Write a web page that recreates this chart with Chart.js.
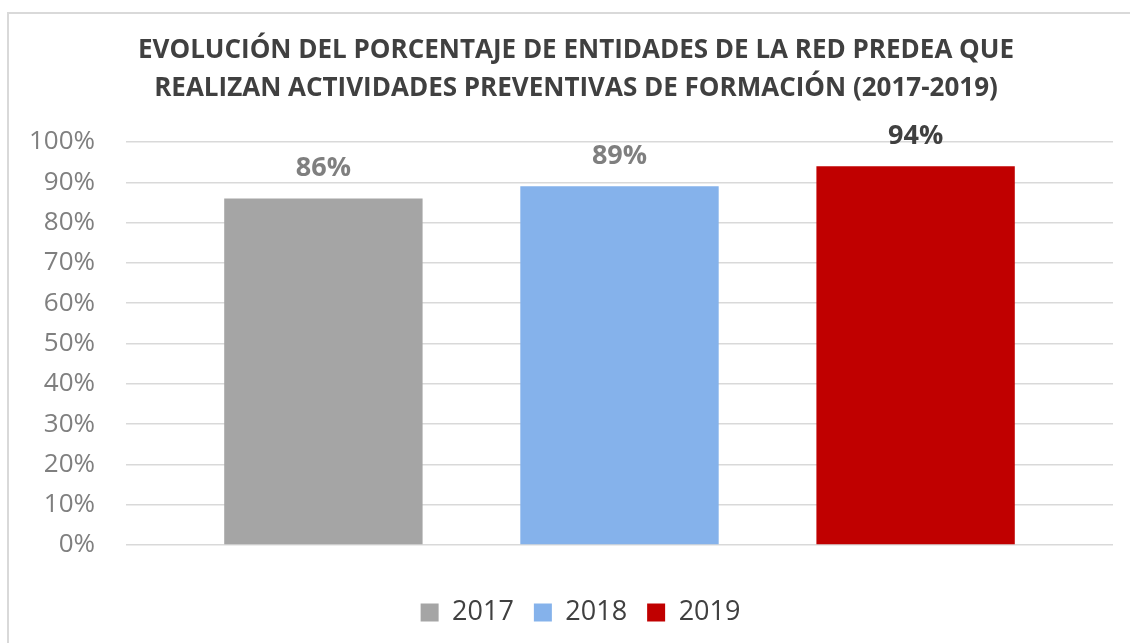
<!DOCTYPE html>
<html>
<head>
<meta charset="utf-8">
<script src="https://cdn.jsdelivr.net/npm/chart.js@4"></script>
<style>
  html, body { margin: 0; padding: 0; background: #fff; }
  #wrap { position: relative; width: 1130px; height: 643px; overflow: hidden; }
  #frame {
    position: absolute; left: 7px; top: 12px; width: 1200px; height: 700px;
    border-left: 2px solid #d9d9d9; border-top: 2px solid #d9d9d9;
  }
  #chart { position: absolute; left: 0; top: 0; }
</style>
</head>
<body>
<div id="wrap">
  <div id="frame"></div>
  <canvas id="chart" width="1130" height="643"></canvas>
</div>
<script>
// values
const years = ["2017", "2018", "2019"];
const percents = [86, 89, 94];
const barColors = ["#a5a5a5", "#85b2eb", "#c00000"];
const labelColors = ["#7f7f7f", "#7f7f7f", "#404040"];
const titleLines = [
  "EVOLUCIÓN DEL PORCENTAJE DE ENTIDADES DE LA RED PREDEA QUE",
  "REALIZAN ACTIVIDADES PREVENTIVAS DE FORMACIÓN (2017-2019)",
];

const FONT = "'Open Sans', 'DejaVu Sans', sans-serif";

// value labels above each bar + the two-line title (sits a bit right of centre)
const barLabels = {
  id: "barLabels",
  afterLayout(chart) {
    // the original legend is centred on the plot, not the whole canvas
    chart.legend.left += 14;
    chart.legend.right += 14;
  },
  afterDatasetsDraw(chart) {
    const ctx = chart.ctx;
    ctx.save();
    ctx.font = "bold 27px " + FONT;
    ctx.textAlign = "center";
    ctx.textBaseline = "middle";
    chart.data.datasets.forEach((ds, i) => {
      const bar = chart.getDatasetMeta(i).data[0];
      ctx.fillStyle = labelColors[i];
      ctx.fillText(ds.data[0] + "%", bar.x, bar.y - 30);
    });
    ctx.fillStyle = "#404040";
    ctx.font = "bold 26px " + FONT;
    titleLines.forEach((t, i) => ctx.fillText(t, 576, 51 + i * 38));
    ctx.restore();
  },
};

new Chart(document.getElementById("chart"), {
  type: "bar",
  data: {
    labels: [""],
    datasets: years.map((y, i) => ({
      label: y,
      data: [percents[i]],
      backgroundColor: barColors[i],
      borderWidth: 0,
    })),
  },
  options: {
    responsive: false,
    animation: false,
    categoryPercentage: 0.9,
    barPercentage: 0.67,
    layout: {padding: {left: 20, right: 17, top: 142, bottom: 7}},
    plugins: {
      title: {display: false},
      legend: {
        position: "bottom",
        labels: {
          color: "#404040",
          font: {family: FONT, size: 27},
          boxWidth: 18,
          boxHeight: 18,
          padding: 20,
        },
      },
      tooltip: {enabled: false},
    },
    scales: {
      x: {
        afterFit(scale) { scale.height = 34; },
        grid: {display: false},
        border: {display: false},
        ticks: {display: false},
      },
      y: {
        min: 0,
        max: 100,
        afterFit(scale) { scale.width = 106; },
        grid: {color: "#d9d9d9", lineWidth: 1.5, drawTicks: false},
        border: {display: false},
        ticks: {
          stepSize: 10,
          padding: 31,
          color: "#7f7f7f",
          font: {family: FONT, size: 26},
          callback: v => v + "%",
        },
      },
    },
  },
  plugins: [barLabels],
});
</script>
</body>
</html>
